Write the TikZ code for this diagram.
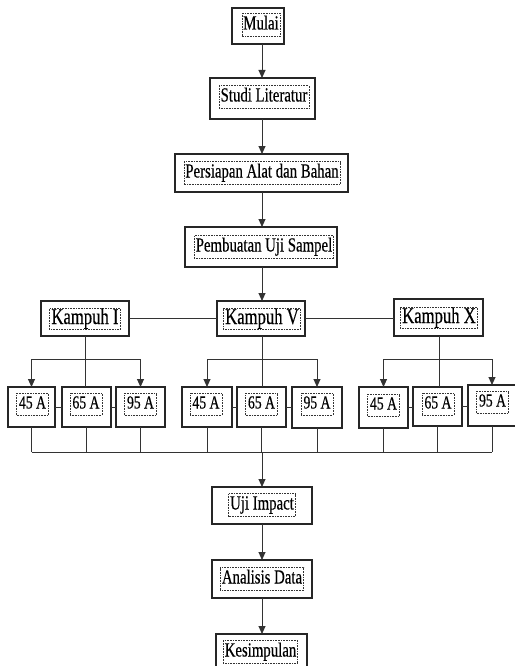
\documentclass[tikz,border=0pt]{standalone}
\usepackage{fontspec}
\setmainfont{Liberation Serif}[FakeStretch=0.74,FakeBold=0.4]
\usetikzlibrary{arrows.meta}
\newcommand\flowbx[9]{%
  \node[outerbox, minimum width={#4-#2}, minimum height={#5-#3}] (#1) at ({(#2+#4)/2},{(#3+#5)/2}) {};
  \node[#8] (#1-t) at (#6,#7) {#9};}
\begin{document}
\begin{tikzpicture}[x=1pt,y=-1pt,
  outerbox/.style={draw=black!85, line width=1.2pt, inner sep=0pt, outer sep=0pt, fill=white},
  lbl/.style={draw=black!80, densely dotted, line width=0.6pt, inner xsep=1.5pt, inner ysep=2.5pt,
     font=\fontsize{20}{22}\selectfont, text height=13.5pt, text depth=4.5pt},
  klbl/.style={lbl, inner xsep=2pt, inner ysep=0.5pt, font=\fontsize{22.5}{24}\selectfont, text height=15pt, text depth=5pt},
  slbl/.style={lbl, inner xsep=2.5pt, inner ysep=3pt, font=\fontsize{18.5}{20}\selectfont, text height=12.5pt, text depth=3.5pt},
  conn/.style={draw=black!80, line width=0.9pt},
  arr/.style={conn, -{Triangle[length=8pt,width=7pt]}}]
\useasboundingbox (0,0) rectangle (514,666);
\coordinate (spine) at (262,0);
% main column
\flowbx{mulai}{232}{8}{284}{44}{261}{25}{lbl}{Mulai}
\flowbx{studi}{210}{78}{315}{119}{264}{97}{lbl}{Studi Literatur}
\flowbx{pers}{175}{154}{348}{192}{262}{173}{lbl}{Persiapan Alat dan Bahan}
\flowbx{pemb}{185}{227}{337}{267}{264}{247}{lbl}{Pembuatan Uji Sampel}
% kampuh row
\flowbx{ki}{41}{301}{129}{336}{85}{319}{klbl}{Kampuh I}
\flowbx{kv}{217}{301}{305}{336}{262}{319}{klbl}{Kampuh V}
\flowbx{kx}{394}{299}{483}{336}{439}{318}{klbl}{Kampuh X}
% small boxes
\flowbx{i45}{8}{387}{55}{427}{32.5}{404}{slbl}{45 A}
\flowbx{i65}{62}{387}{111}{427}{86}{404}{slbl}{65 A}
\flowbx{i95}{116}{387}{165}{427}{140.5}{404}{slbl}{95 A}
\flowbx{v45}{182}{387}{232}{427}{206}{404}{slbl}{45 A}
\flowbx{v65}{237}{387}{286}{427}{261.5}{404}{slbl}{65 A}
\flowbx{v95}{292}{387}{342}{428}{317}{404}{slbl}{95 A}
\flowbx{x45}{359}{387}{408}{428}{383.5}{405}{slbl}{45 A}
\flowbx{x65}{413}{387}{462}{426}{438}{404}{slbl}{65 A}
\flowbx{x95}{468}{385}{516}{426}{492.5}{402}{slbl}{95 A}
% lower column
\flowbx{uji}{212}{487}{312}{524}{262}{505}{lbl}{Uji Impact}
\flowbx{anal}{212}{560}{312}{598}{262}{579}{lbl}{Analisis Data}
\flowbx{kes}{216}{634}{307}{670}{260.5}{652}{lbl}{Kesimpulan}
% main arrows
\draw[arr] (mulai.south -| spine) -- (studi.north -| spine);
\draw[arr] (studi.south -| spine) -- (pers.north -| spine);
\draw[arr] (pers.south -| spine) -- (pemb.north -| spine);
\draw[arr] (pemb.south -| spine) -- (kv.north -| spine);
% kampuh links
\draw[conn] (ki.east) -- (ki.east -| kv.west);
\draw[conn] (kv.east) -- (kv.east -| kx.west);
% branches
\coordinate (bI) at (85,359);
\coordinate (bV) at (262,359);
\coordinate (bX) at (439,359);
\draw[conn] (ki.south -| bI) -- (i65.north -| bI);
\draw[conn] (kv.south -| bV) -- (v65.north -| bV);
\draw[conn] (kx.south -| bX) -- (x65.north -| bX);
\draw[arr] (bI) -| (i45.north);
\draw[arr] (bI) -| (i95.north);
\draw[arr] (bV) -| (v45.north);
\draw[arr] (bV) -| (v95.north);
\draw[arr] (bX) -| (x45.north);
\draw[arr] (bX) -| (x95.north);
% links between small boxes
\draw[conn] (i45.east) -- (i45.east -| i65.west);
\draw[conn] (i65.east) -- (i65.east -| i95.west);
\draw[conn] (v45.east) -- (v45.east -| v65.west);
\draw[conn] (v65.east) -- (v65.east -| v95.west);
\draw[conn] (x45.east) -- (x45.east -| x65.west);
\draw[conn] (x65.east) -- (x65.east -| x95.west);
% bus
\coordinate (bus) at (262,452);
\draw[conn] (i45.south |- bus) -- (x95.south |- bus);
\foreach \n in {i45,i65,i95,v45,v65,v95,x45,x65,x95}
  \draw[conn] (\n.south) -- (\n.south |- bus);
\draw[arr] (bus) -- (uji.north -| spine);
\draw[arr] (uji.south -| spine) -- (anal.north -| spine);
\draw[arr] (anal.south -| spine) -- (kes.north -| spine);
\end{tikzpicture}
\end{document}
